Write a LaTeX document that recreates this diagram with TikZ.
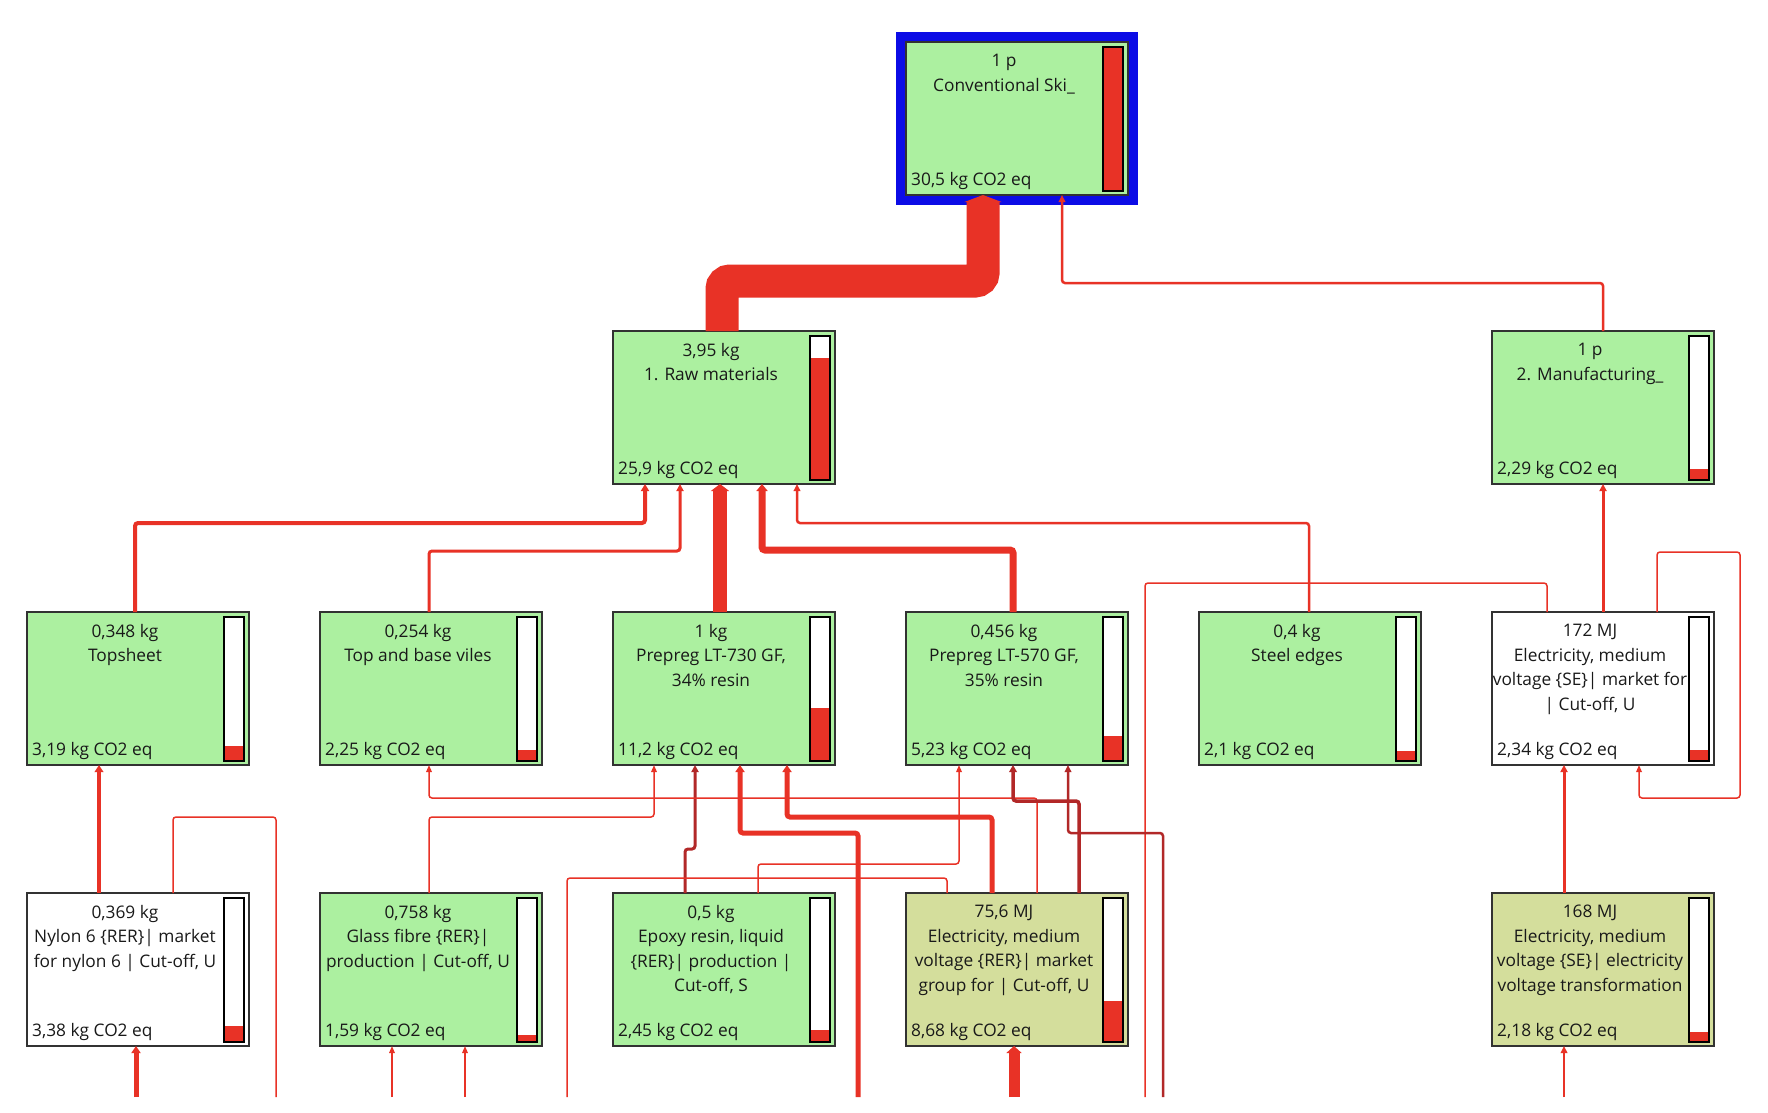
\documentclass[tikz,border=0pt]{standalone}
\usepackage{fontspec}
\setmainfont{Open Sans}
\usetikzlibrary{arrows.meta,calc}
\definecolor{gbox}{RGB}{172,240,160}
\definecolor{obox}{RGB}{212,222,156}
\definecolor{fblue}{RGB}{12,12,230}
\definecolor{fred}{RGB}{232,50,38}
\definecolor{dred}{RGB}{178,40,40}
\definecolor{boxline}{RGB}{50,50,50}
\definecolor{txt}{RGB}{25,25,25}
\tikzset{
  procnode/.style={draw=boxline, line width=1.5pt, minimum width=222pt, minimum height=153pt, inner sep=0pt, outer sep=0pt},
  ttext/.style={anchor=north, align=center, inner sep=0pt, font=\fontsize{17.3}{24.5}\selectfont, text=txt},
  btext/.style={anchor=west, inner sep=0pt, font=\fontsize{17.3}{20}\selectfont, text=txt},
  barline/.style={draw=black, line width=1.3pt},
  flow/.style={draw=fred, rounded corners=3pt, -{Triangle[width=4pt 1, length=7pt 0]}},
  wire/.style={draw=fred, rounded corners=3pt},
}
\newcommand{\procbox}[7]{%
  \node[procnode, fill=#4] (#1) at ({#2+111},{#3+76.5}) {};
  \fill[white] ({#2+197},{#3+5}) rectangle ({#2+217},{#3+149});
  \fill[fred] ({#2+197},{#3+149-144*#5}) rectangle ({#2+217},{#3+149});
  \draw[barline] ({#2+197},{#3+5}) rectangle ({#2+217},{#3+149});
  \node[ttext] (#1t) at ({#2+98},{#3+12}) {#6};
  \node[btext] (#1b) at ({#2+5},{#3+139}) {#7};
}
\begin{document}
\begin{tikzpicture}[x=1pt,y=-1pt]
\useasboundingbox[fill=white] (0,0) rectangle (1768,1112);
% top node frame
\draw[line width=10pt, draw=fblue] (901,37) rectangle (1133,200);
\procbox{top}{906}{42}{gbox}{1}{1 p\\Conventional Ski\_}{30,5 kg CO2 eq}
% row 1
\procbox{raw}{613}{331}{gbox}{0.849}{3,95 kg\\1. Raw materials}{25,9 kg CO2 eq}
\procbox{manuf}{1492}{331}{gbox}{0.075}{1 p\\2. Manufacturing\_}{2,29 kg CO2 eq}
% row 2
\procbox{topsheet}{27}{612}{gbox}{0.105}{0,348 kg\\Topsheet}{3,19 kg CO2 eq}
\procbox{topbase}{320}{612}{gbox}{0.074}{0,254 kg\\Top and base viles}{2,25 kg CO2 eq}
\procbox{pa}{613}{612}{gbox}{0.367}{1 kg\\Prepreg LT-730 GF,\\34\% resin}{11,2 kg CO2 eq}
\procbox{pb}{906}{612}{gbox}{0.171}{0,456 kg\\Prepreg LT-570 GF,\\35\% resin}{5,23 kg CO2 eq}
\procbox{steel}{1199}{612}{gbox}{0.069}{0,4 kg\\Steel edges}{2,1 kg CO2 eq}
\procbox{elecse}{1492}{612}{white}{0.077}{172 MJ\\Electricity, medium\\voltage \{SE\}| market for\\| Cut-off, U}{2,34 kg CO2 eq}
% row 3
\procbox{nylon}{27}{893}{white}{0.111}{0,369 kg\\Nylon 6 \{RER\}| market\\for nylon 6 | Cut-off, U}{3,38 kg CO2 eq}
\procbox{glass}{320}{893}{gbox}{0.052}{0,758 kg\\Glass fibre \{RER\}|\\production | Cut-off, U}{1,59 kg CO2 eq}
\procbox{epoxy}{613}{893}{gbox}{0.080}{0,5 kg\\Epoxy resin, liquid\\\{RER\}| production |\\Cut-off, S}{2,45 kg CO2 eq}
\procbox{elecrer}{906}{893}{obox}{0.285}{75,6 MJ\\Electricity, medium\\voltage \{RER\}| market\\group for | Cut-off, U}{8,68 kg CO2 eq}
\procbox{elecsetr}{1492}{893}{obox}{0.071}{168 MJ\\Electricity, medium\\voltage \{SE\}| electricity\\voltage transformation}{2,18 kg CO2 eq}
% free ends below
\coordinate (e1) at (136,1097);
\coordinate (e2) at (276,1097);
\coordinate (e3) at (392,1097);
\coordinate (e4) at (465,1097);
\coordinate (e5) at (567,1097);
\coordinate (e6) at (858,1097);
\coordinate (e7) at (1014,1097);
\coordinate (e8) at (1145,1097);
\coordinate (e9) at (1163,1097);
\coordinate (e10) at (1564,1097);
% connectors to top
\draw[flow, rounded corners=8pt, line width=33pt] ($(raw.north)+(-2,0)$) |- (983,281) -- ($(top.south)+(-34,0)$);
\draw[flow, line width=2.5pt] (manuf.north) |- (1062,283) -- ($(top.south)+(45,0)$);
% connectors to raw materials
\draw[flow, line width=4pt] ($(topsheet.north)+(-3,0)$) |- (645,523) -- ($(raw.south)+(-79,0)$);
\draw[flow, line width=3pt] ($(topbase.north)+(-2,0)$) |- (680,551) -- ($(raw.south)+(-44,0)$);
\draw[flow, line width=14pt] ($(pa.north)+(-4,0)$) -- ($(raw.south)+(-4,0)$);
\draw[flow, line width=7pt] ($(pb.north)+(-4,0)$) |- (762,550) -- ($(raw.south)+(38,0)$);
\draw[flow, line width=2.5pt] ($(steel.north)+(-1,0)$) |- (797,523) -- ($(raw.south)+(73,0)$);
% manufacturing branch
\draw[flow, line width=3pt] (elecse.north) -- (manuf.south);
\draw[wire, line width=1.5pt] ($(elecse.north)+(-56,0)$) |- (1145,583) -- (e8);
\draw[flow, line width=1.5pt] ($(elecse.north)+(54,0)$) |- (1740,552) |- (1639,798) -- ($(elecse.south)+(36,0)$);
\draw[flow, line width=3pt] ($(elecsetr.north)+(-39,0)$) -- ($(elecse.south)+(-39,0)$);
\draw[flow, line width=2.5pt] (e10) -- ($(elecsetr.south)+(-39,0)$);
% lower level
\draw[flow, line width=4.5pt] ($(nylon.north)+(-39,0)$) -- ($(topsheet.south)+(-39,0)$);
\draw[wire, line width=1.5pt] ($(nylon.north)+(35,0)$) |- (276,817) -- (e2);
\draw[flow, line width=5pt] (e1) -- ($(nylon.south)+(-2,0)$);
\draw[flow, line width=1.5pt] ($(glass.north)+(-2,0)$) |- (654,817) -- ($(pa.south)+(-70,0)$);
\draw[flow, line width=1.5pt] (e3) -- ($(glass.south)+(-39,0)$);
\draw[flow, line width=1.5pt] (e4) -- ($(glass.south)+(34,0)$);
\draw[flow, line width=5pt] (e6) |- (740,833) -- ($(pa.south)+(16,0)$);
\draw[flow, line width=5pt] ($(elecrer.north)+(-25,0)$) |- (787,817) -- ($(pa.south)+(63,0)$);
\draw[flow, draw=dred, line width=3pt] ($(epoxy.north)+(-39,0)$) |- (695,849) -- ($(pa.south)+(-29,0)$);
\draw[flow, line width=1.5pt] ($(epoxy.north)+(34,0)$) |- (959,864) -- ($(pb.south)+(-58,0)$);
\draw[wire, line width=1.5pt] ($(elecrer.north)+(-70,0)$) |- (567,878) -- (e5);
\draw[flow, line width=1.5pt] ($(elecrer.north)+(20,0)$) |- (429,798) -- ($(topbase.south)+(-2,0)$);
\draw[flow, draw=dred, line width=3.5pt] ($(elecrer.north)+(62,0)$) |- (1013,801) -- ($(pb.south)+(-4,0)$);
\draw[flow, draw=dred, line width=2.5pt] (e9) |- (1068,833) -- ($(pb.south)+(51,0)$);
\draw[flow, line width=11pt] (e7) -- ($(elecrer.south)+(-3,0)$);
\end{tikzpicture}
\end{document}
